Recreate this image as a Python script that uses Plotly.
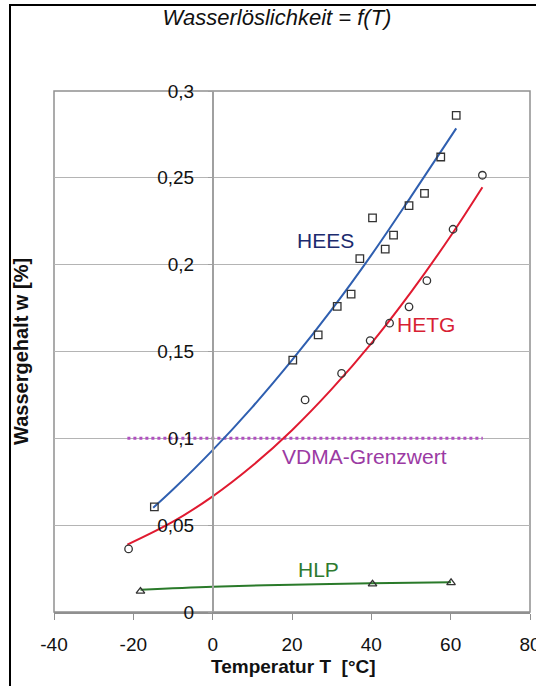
import plotly.graph_objects as go

# ---- data ----
hees_T = [-14.7, 20.2, 26.6, 31.4, 34.9, 37.1, 40.3, 43.5, 45.6, 49.5, 53.4, 57.5, 61.4]
hees_w = [0.0605, 0.1450, 0.1596, 0.1760, 0.1830, 0.2035, 0.2270, 0.2090, 0.2170, 0.2340, 0.2410, 0.2620, 0.2860]

hetg_T = [-21.2, 23.3, 32.5, 39.7, 44.6, 49.5, 54.0, 60.6, 68.0]
hetg_w = [0.0363, 0.1221, 0.1374, 0.1563, 0.1663, 0.1757, 0.1908, 0.2204, 0.2515]

hlp_T = [-18.2, 40.3, 60.1]
hlp_w = [0.0119, 0.0161, 0.0169]

hees_fit_T = [-15, -10, 0, 10, 20, 30, 40, 50, 61.4]
hees_fit_w = [0.0600, 0.0705, 0.0932, 0.1180, 0.1450, 0.1741, 0.2055, 0.2392, 0.2785]

hetg_fit_T = [-21.5, -10, 0, 10, 20, 30, 40, 50, 60, 68]
hetg_fit_w = [0.0388, 0.0520, 0.0666, 0.0842, 0.1047, 0.1283, 0.1547, 0.1842, 0.2165, 0.2446]

hlp_fit_T = [-18.2, 0, 20, 40, 60.1]
hlp_fit_w = [0.0128, 0.0146, 0.0157, 0.0166, 0.0172]

vdma_T = [-21.5, 68.1]
vdma_w = [0.1, 0.1]

x_ticks = [-40, -20, 0, 20, 40, 60, 80]
x_ticktext = ["-40", "-20", "0", "20", "40", "60", "80"]
y_ticks = [0, 0.05, 0.1, 0.15, 0.2, 0.25, 0.3]
y_ticktext = ["0", "0,05", "0,1", "0,15", "0,2", "0,25", "0,3"]

labels = [
    ("HEES", 28.5, 0.214, "#1c2b6e"),
    ("HETG", 53.7, 0.1655, "#d81f34"),
    ("VDMA-Grenzwert", 38.2, 0.0895, "#9b3aa3"),
    ("HLP", 26.6, 0.0247, "#2f7a30"),
]

FONT = "Liberation Sans, Arial, sans-serif"

fig = go.Figure()

# threshold
fig.add_trace(go.Scatter(x=vdma_T, y=vdma_w, mode="lines",
                         line=dict(color="#b050c0", width=3, dash="dot"),
                         hoverinfo="skip", showlegend=False))
# trend curves
fig.add_trace(go.Scatter(x=hees_fit_T, y=hees_fit_w, mode="lines", line_shape="spline",
                         line=dict(color="#2f5fb0", width=2), showlegend=False))
fig.add_trace(go.Scatter(x=hetg_fit_T, y=hetg_fit_w, mode="lines", line_shape="spline",
                         line=dict(color="#e01a30", width=2), showlegend=False))
fig.add_trace(go.Scatter(x=hlp_fit_T, y=hlp_fit_w, mode="lines", line_shape="spline",
                         line=dict(color="#2a7a2a", width=2), showlegend=False))
# measured points
fig.add_trace(go.Scatter(x=hees_T, y=hees_w, mode="markers",
                         marker=dict(symbol="square-open", size=7.5, color="#333333",
                                     line=dict(width=1.3)), showlegend=False))
fig.add_trace(go.Scatter(x=hetg_T, y=hetg_w, mode="markers",
                         marker=dict(symbol="circle-open", size=7.5, color="#333333",
                                     line=dict(width=1.3)), showlegend=False))
fig.add_trace(go.Scatter(x=hlp_T, y=hlp_w, mode="markers",
                         marker=dict(symbol="triangle-up-open", size=7.5, color="#333333",
                                     line=dict(width=1.3)), showlegend=False))

for txt, xv, yv, col in labels:
    fig.add_annotation(x=xv, y=yv, text=txt, showarrow=False,
                       xanchor="center", yanchor="middle",
                       font=dict(family=FONT, size=21, color=col))

# axis titles
fig.add_annotation(xref="paper", yref="paper", x=(21 - 54) / 476, y=(612 - 352) / 521,
                   xanchor="center", yanchor="middle",
                   text="<b>Wassergehalt w [%]</b>", textangle=-90, showarrow=False,
                   font=dict(family=FONT, size=20, color="#111111"))
fig.add_annotation(xref="paper", yref="paper", x=(293 - 54) / 476, y=(612 - 666) / 521,
                   xanchor="center", yanchor="middle",
                   text="<b>Temperatur T  [°C]</b>", showarrow=False,
                   font=dict(family=FONT, size=19, color="#111111"))

# outer frame and plot border
fig.add_shape(type="rect", xref="paper", yref="paper",
              x0=(10 - 54) / 476, x1=(545 - 54) / 476,
              y0=(612 - 700) / 521, y1=(612 - 5) / 521,
              line=dict(color="#000000", width=2), layer="above")
fig.add_shape(type="rect", xref="x domain", yref="y domain", x0=0, x1=1, y0=0, y1=1,
              line=dict(color="#909090", width=1.5), layer="below")

fig.update_layout(
    width=536, height=686,
    margin=dict(l=54, r=6, t=91, b=74, autoexpand=False),
    paper_bgcolor="white", plot_bgcolor="white",
    title=dict(text="Wasserlöslichkeit = f(T)", x=277 / 536, xanchor="center",
               y=1 - 17 / 686, yanchor="middle",
               font=dict(family=FONT, size=22, color="#111111", style="italic")),
    xaxis=dict(range=[-40, 80], tickvals=x_ticks, ticktext=x_ticktext,
               showgrid=False, zeroline=False,
               showline=True, linecolor="#909090", linewidth=1.5,
               ticks="outside", ticklen=6, tickcolor="#909090",
               ticklabelstandoff=8, ticklabeloverflow="allow", automargin=False,
               tickfont=dict(family=FONT, size=19, color="#111111")),
    yaxis=dict(range=[0, 0.3], tickvals=y_ticks, ticktext=y_ticktext,
               anchor="free", position=40 / 120, automargin=False,
               showline=True, linecolor="#a0a0a0", linewidth=1.5,
               showgrid=True, gridcolor="#b4b4b4", gridwidth=1,
               zeroline=False, ticks="outside", ticklen=4, tickcolor="#a0a0a0",
               ticklabelstandoff=10,
               tickfont=dict(family=FONT, size=19, color="#111111")),
)

fig.write_html("out.html", config={"displayModeBar": False},
               post_script="document.body.style.margin='0';document.body.style.overflow='hidden';")
